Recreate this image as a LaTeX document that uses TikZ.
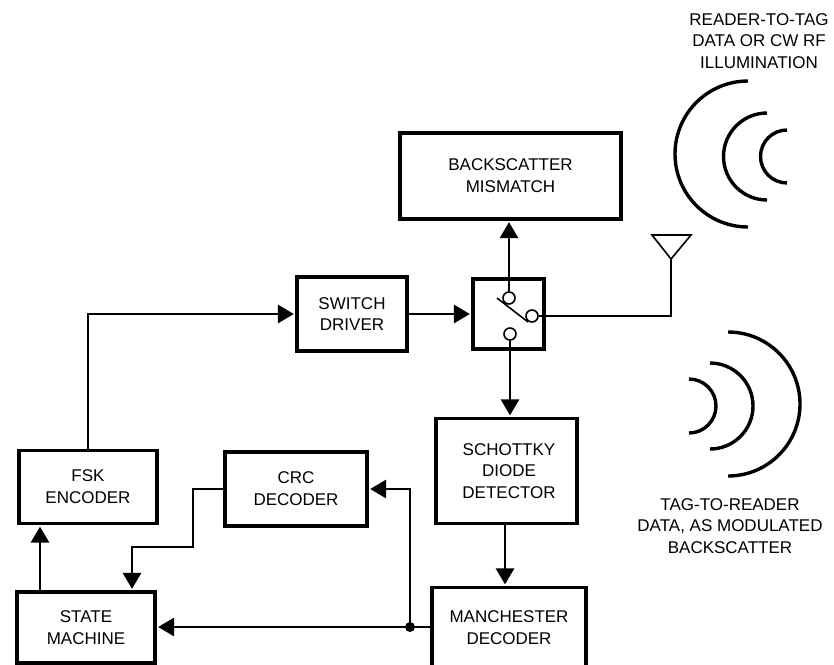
\documentclass[tikz,border=0pt]{standalone}
\usepackage{fontspec}
\setmainfont{Liberation Sans}
\usetikzlibrary{arrows.meta}
\tikzset{
  block/.style={draw,line width=3.4pt,align=center,inner sep=0pt,font=\fontsize{17}{21.8}\selectfont},
  caption/.style={align=center,inner sep=0pt,font=\fontsize{17}{21.5}\selectfont},
  contact/.style={draw,circle,fill=white,line width=1.6pt,minimum size=12pt,inner sep=0pt},
  wire/.style={line width=1.6pt},
  flow/.style={wire,-{Triangle[length=16pt,width=18.5pt]},shorten >=1.5pt},
  wave/.style={line width=3.4pt}
}
\begin{document}
\begin{tikzpicture}[x=1pt,y=-1pt]
  \useasboundingbox (0,0) rectangle (834,664);
  \node [block,minimum width=221pt,minimum height=86pt] (mismatch) at (510.5,176) {BACKSCATTER\\MISMATCH};
  \node [block,minimum width=110pt,minimum height=74pt] (driver) at (352,314) {SWITCH\\DRIVER};
  \node [block,minimum width=71pt,minimum height=70pt] (switch) at (508.5,314) {};
  \node [block,minimum width=141pt,minimum height=105pt] (schottky) at (506.5,471) {\hspace*{5pt}SCHOTTKY\\\hspace*{5pt}DIODE\\\hspace*{5pt}DETECTOR};
  \node [block,minimum width=138pt,minimum height=73pt] (fsk) at (88,487) {FSK\\ENCODER};
  \node [block,minimum width=142pt,minimum height=74pt] (crc) at (296,489) {CRC\\DECODER};
  \node [block,minimum width=138pt,minimum height=71pt] (state) at (86,627.5) {STATE\\MACHINE};
  \node [block,minimum width=154pt,minimum height=81pt] (manch) at (509,628) {MANCHESTER\\DECODER};

  \node [contact] (swtop) at (509,298) {};
  \node [contact] (swright) at (532,316) {};
  \node [contact] (swbot) at (510,334) {};
  \coordinate (bladea) at (497,298);
  \coordinate (bladeb) at (528,322);
  \coordinate (jn) at (410,627);
  \coordinate (crcbend) at (193,547);
  \coordinate (crcdrop) at ([xshift=46pt]state.north);
  \coordinate (ant) at (671,259);

  \draw [wire] (bladea) -- (bladeb);
  \draw [wire] (swright) -| (ant);
  \draw [wire] (ant) -- (652,235) -- (691,235) -- cycle;

  \path [flow]
    (swtop) edge (swtop|-mismatch.south)
    (swbot) edge (swbot|-schottky.north)
    (driver.east) edge (switch.west)
    ([xshift=-1.5pt]schottky.south) edge ([xshift=-4pt]manch.north)
    ([xshift=-46pt]state.north) edge ([xshift=-48pt]fsk.south)
    (jn) edge (jn-|state.east);
  \draw [flow] (fsk.north) |- (driver.west);
  \draw [flow] (jn) |- (crc.east);
  \draw [flow] (crc.west) -| (crcbend) -| (crcdrop);
  \draw [wire] (jn-|manch.west) -- (jn);
  \fill (jn) circle (5pt);

  \draw [wave] (748,81) arc [start angle=90,end angle=270,radius=73pt];
  \draw [wave] (767,113) arc [start angle=90,end angle=270,radius=43.5pt];
  \draw [wave] (787,130) arc [start angle=90,end angle=270,radius=26.5pt];
  \draw [wave] (728,332) arc [start angle=90,end angle=-90,radius=72pt];
  \draw [wave] (710,363) arc [start angle=90,end angle=-90,radius=43pt];
  \draw [wave] (689,379) arc [start angle=90,end angle=-90,radius=27pt];

  \node [caption] (downlink) at (759,41) {READER-TO-TAG\\DATA OR CW RF\\ILLUMINATION};
  \node [caption] (uplink) at (730,526) {TAG-TO-READER\\DATA, AS MODULATED\\BACKSCATTER};
\end{tikzpicture}
\end{document}
